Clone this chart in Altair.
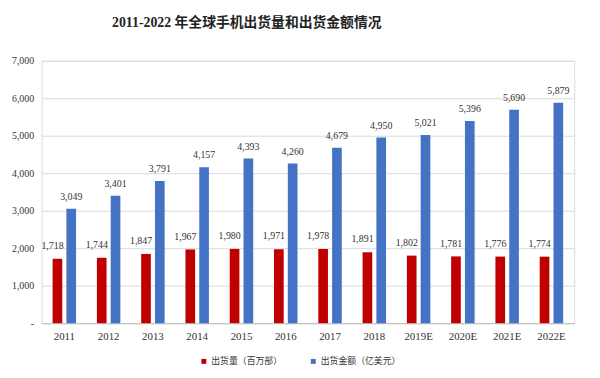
import altair as alt
import pandas as pd

years = ["2011", "2012", "2013", "2014", "2015", "2016", "2017", "2018", "2019E", "2020E", "2021E", "2022E"]
shipments = [1718, 1744, 1847, 1967, 1980, 1971, 1978, 1891, 1802, 1781, 1776, 1774]
values = [3049, 3401, 3791, 4157, 4393, 4260, 4679, 4950, 5021, 5396, 5690, 5879]
series = ["出货量（百万部）", "出货金额（亿美元）"]
colors = ["#C00000", "#4472C4"]

rows = []
for y, s, v in zip(years, shipments, values):
    rows.append({"year": y, "series": series[0], "value": s})
    rows.append({"year": y, "series": series[1], "value": v})
df = pd.DataFrame(rows)

FONT = "Liberation Serif, Noto Sans CJK SC"

x = alt.X("year:N", sort=years, title=None,
          scale=alt.Scale(paddingInner=0.47, paddingOuter=0.25),
          axis=alt.Axis(labelAngle=0, ticks=False, domainColor="#bfbfbf",
                        labelFont=FONT, labelFontSize=11, labelColor="#333333", labelPadding=8))
xo = alt.XOffset("series:N", sort=series, scale=alt.Scale(paddingInner=0.3))
y = alt.Y("value:Q", title=None,
          scale=alt.Scale(domain=[0, 7000]),
          axis=alt.Axis(values=[0, 1000, 2000, 3000, 4000, 5000, 6000, 7000],
                        labelExpr="datum.value == 0 ? '-' : format(datum.value, ',')",
                        domain=False, ticks=False, gridColor="#d9d9d9",
                        labelFont=FONT, labelFontSize=10, labelColor="#333333", labelPadding=8))
color = alt.Color("series:N", sort=series,
                  scale=alt.Scale(domain=series, range=colors),
                  legend=alt.Legend(title=None, orient="none", direction="horizontal",
                                    legendX=160, legendY=300, symbolType="square", symbolSize=25,
                                    labelFont=FONT, labelFontSize=9, labelColor="#333333",
                                    columnPadding=26, symbolStrokeWidth=0, labelOffset=3))

base = alt.Chart(df)
bars = base.mark_bar().encode(x=x, xOffset=xo, y=y, color=color)
labels_red = base.transform_filter(alt.datum.series == series[0]).mark_text(
    dy=-13, dx=-5, font=FONT, fontSize=10, color="#333333").encode(
    x=x, xOffset=xo, y=y, text=alt.Text("value:Q", format=","))
labels_blue = base.transform_filter(alt.datum.series == series[1]).mark_text(
    dy=-12, font=FONT, fontSize=10, color="#333333").encode(
    x=x, xOffset=xo, y=y, text=alt.Text("value:Q", format=","))

chart = (bars + labels_red + labels_blue).properties(
    width=540, height=266,
    title=alt.TitleParams("2011-2022 年全球手机出货量和出货金额情况", font=FONT,
                          fontSize=14, fontWeight="bold", color="#222222",
                          anchor="start", dx=102, offset=26),
    autosize=alt.AutoSizeParams(type="none"),
    padding={"left": 34, "top": 51, "right": 18, "bottom": 45},
).configure_view(stroke=None).configure(background="white")

chart.save("out.html", embed_options={"renderer": "svg", "actions": False})
